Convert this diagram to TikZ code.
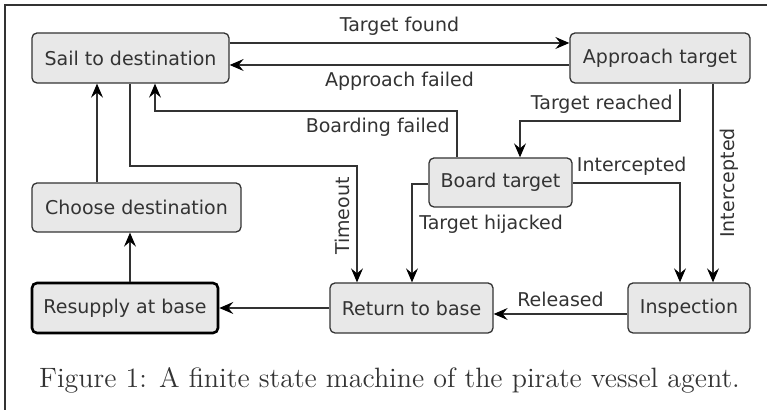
\documentclass[tikz,border=0pt]{standalone}
\usepackage{fontspec}
\newfontfamily\statefont{DejaVu Sans}
\usetikzlibrary{arrows.meta}

\definecolor{boxgray}{HTML}{E8E8E8}
\definecolor{linegray}{HTML}{333333}

\tikzset{
  state/.style={draw=linegray, fill=boxgray, rounded corners=2.5pt, line width=0.65pt,
    text=linegray, font=\statefont\fontsize{9.5}{11}\selectfont, inner sep=0pt},
  trans/.style={draw=linegray, line width=0.65pt,
    -{Stealth[length=7pt, width=6pt, inset=2.5pt, color=black]}},
  lbl/.style={text=linegray, font=\statefont\fontsize{9.5}{11}\selectfont}
}

\begin{document}
\begin{tikzpicture}[x=0.5pt, y=-0.5pt]

\useasboundingbox (0,0) rectangle (767,410);
\draw[linegray, line width=0.75pt] (5,410) -- (5,5) -- (767,5);

\node[state, minimum width=98.5pt, minimum height=25pt] (sail) at (130.5,58) {Sail to destination};
\node[state, minimum width=90pt, minimum height=25pt] (approach) at (660,58) {Approach target};

\node[state, minimum width=71.5pt, minimum height=24.5pt] (board) at (500.5,182.5) {Board target};
\node[state, minimum width=104.5pt, minimum height=24.5pt] (choose) at (136.5,207.5) {Choose destination};

\node[state, draw=black, line width=1.3pt, minimum width=93pt, minimum height=25pt] (resupply) at (125,308) {Resupply at base};
\node[state, minimum width=81.5pt, minimum height=25pt] (return) at (411.5,308) {Return to base};
\node[state, minimum width=61pt, minimum height=25pt] (inspect) at (689,308) {Inspection};

\draw[trans]
  (sail.east |- 0,43) -- node[lbl, above] {Target found} (approach.west |- 0,43);

\draw[trans]
  (approach.west |- 0,65) -- node[lbl, below] {Approach failed} (sail.east |- 0,65);

\draw[trans, shorten <=2.5pt]
  (approach.south -| 680,0) -- node[lbl, left, pos=0.55] {Target reached} (680,121)
  -- (520,121) -- (board.north -| 520,0);

\draw[trans]
  (board.north -| 457,0) -- (457,111) node[lbl, below left] {Boarding failed}
  -- (155,111) -- (sail.south -| 155,0);

\draw[trans]
  (sail.south -| 130,0) -- (130,166) -- (357,166)
  -- node[lbl, rotate=90, anchor=south, pos=0.43] {Timeout} (return.north -| 357,0);

\draw[trans]
  (choose.north -| 97,0) -- (sail.south -| 97,0);

\draw[trans]
  (resupply.north -| 130,0) -- (choose.south -| 130,0);

\draw[trans]
  (return) -- (resupply);

\draw[trans]
  (inspect.west |- 0,314) -- node[lbl, above] {Released} (return.east |- 0,314);

\draw[trans]
  (board.west |- 0,184) -- (412,184)
  -- node[lbl, right, pos=0.41] {Target hijacked} (return.north -| 412,0);

\draw[trans]
  (board.east |- 0,183) -- node[lbl, above, pos=0.55] {Intercepted} (680,183)
  -- (inspect.north -| 680,0);

\draw[trans]
  (approach.south -| 713,0) -- node[lbl, rotate=90, anchor=north] {Intercepted} (inspect.north -| 713,0);

\node[text=linegray, font=\fontsize{14}{16}\selectfont] (caption) at (389.5,380)
  {Figure 1: A finite state machine of the pirate vessel agent.};

\end{tikzpicture}
\end{document}
